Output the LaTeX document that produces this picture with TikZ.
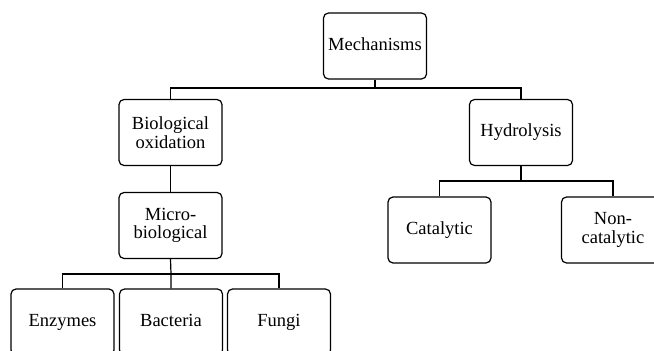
\documentclass[tikz,border=0pt]{standalone}
\usepackage{fontspec}
\setmainfont{Liberation Serif}
\begin{document}
\begin{tikzpicture}[x=1pt,y=-1pt,
      box/.style={draw,rounded corners=5pt,line width=1.2pt,align=center,
        minimum width=103pt,minimum height=66pt,inner sep=2pt,
        font=\fontsize{18.5}{18.5}\selectfont},
      oneline/.style={box,text height=12.5pt,text depth=4pt},
      link/.style={line width=1.2pt}]
    \useasboundingbox (0,0) rectangle (654,351);
    \clip (0,0) rectangle (654,351);
    % top level
    \node[oneline] (mech) at (375,46) {Mechanisms};
    \node[box] (biox) at (170.5,132.5) {Biological\\oxidation};
    \node[oneline] (hydro) at (521,132.5) {Hydrolysis};
    % left branch
    \node[box] (micro) at (170.5,225.5) {Micro-\\biological};
    \node[oneline] (enz) at (62.5,322) {Enzymes};
    \node[oneline] (bact) at (171,322) {Bacteria};
    \node[oneline] (fungi) at (279,322) {Fungi};
    % right branch
    \node[oneline] (cat) at (439.5,230) {Catalytic};
    \node[box] (noncat) at (613,230) {Non-\\catalytic};
    % junctions
    \coordinate (j1) at (375,88);
    \coordinate (j2) at (171,274);
    \coordinate (j3) at (521,181);
    \draw[link] (mech.south) -- (j1);
    \draw[link] (biox.north) |- (j1) -| (hydro.north);
    \draw[link] (biox.south) -- (micro.north);
    \draw[link] (micro.south) -- (j2) -- (bact.north);
    \draw[link] (enz.north) |- (j2) -| (fungi.north);
    \draw[link] (hydro.south) -- (j3);
    \draw[link] (cat.north) |- (j3) -| (noncat.north);
\end{tikzpicture}
\end{document}
